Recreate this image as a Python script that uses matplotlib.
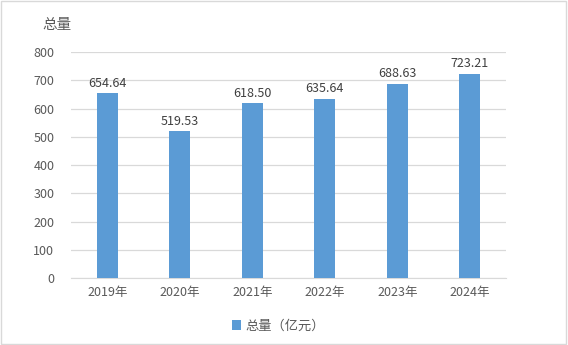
import matplotlib
matplotlib.use('Agg')
import matplotlib.pyplot as plt
from matplotlib.patches import Rectangle

plt.rcParams['font.family'] = ['Noto Sans CJK SC', 'DejaVu Sans']

years  = ['2019年', '2020年', '2021年', '2022年', '2023年', '2024年']
totals = [654.64, 519.53, 618.50, 635.64, 688.63, 723.21]
yticks = [0, 100, 200, 300, 400, 500, 600, 700, 800]

BAR   = '#5B9BD5'
TEXT  = '#595959'
GRID  = '#D9D9D9'

fig = plt.figure(figsize=(5.68, 3.45), dpi=100)
ax = fig.add_axes([0.125, 0.194, 0.766, 0.655])

x = range(len(years))
bars = ax.bar(x, totals, width=0.29, color=BAR, zorder=3, label='总量（亿元）')
for b, v in zip(bars, totals):
    ax.text(b.get_x() + b.get_width() / 2, v + 12, f'{v:.2f}',
            ha='center', va='bottom', fontsize=9, color='#404040')

ax.set_xlim(-0.5, len(years) - 0.5)
ax.set_ylim(0, 800)
ax.set_yticks(yticks)
ax.set_xticks(list(x))
ax.set_xticklabels(years)
ax.tick_params(axis='both', length=0, labelsize=9, colors=TEXT, pad=6)
ax.tick_params(axis='y', pad=12)
ax.grid(axis='y', color=GRID, linewidth=0.9, zorder=0)
for s in ['top', 'right', 'left']:
    ax.spines[s].set_visible(False)
ax.spines['bottom'].set_color(GRID)

fig.text(42 / 568, 1 - 25 / 345, '总量', fontsize=10.5, color=TEXT, va='center', ha='left')

fig.legend(handles=[bars], labels=['总量（亿元）'], loc='center',
           bbox_to_anchor=(0.49, 1 - 326 / 345), frameon=False,
           fontsize=9.5, labelcolor=TEXT, handlelength=0.7, handleheight=0.7,
           handletextpad=0.3)

fig.patches.append(Rectangle((0.002, 0.003), 0.995, 0.994, transform=fig.transFigure,
                             fill=False, edgecolor='#D9D9D9', linewidth=1))

fig.savefig('out.png', dpi=100)
